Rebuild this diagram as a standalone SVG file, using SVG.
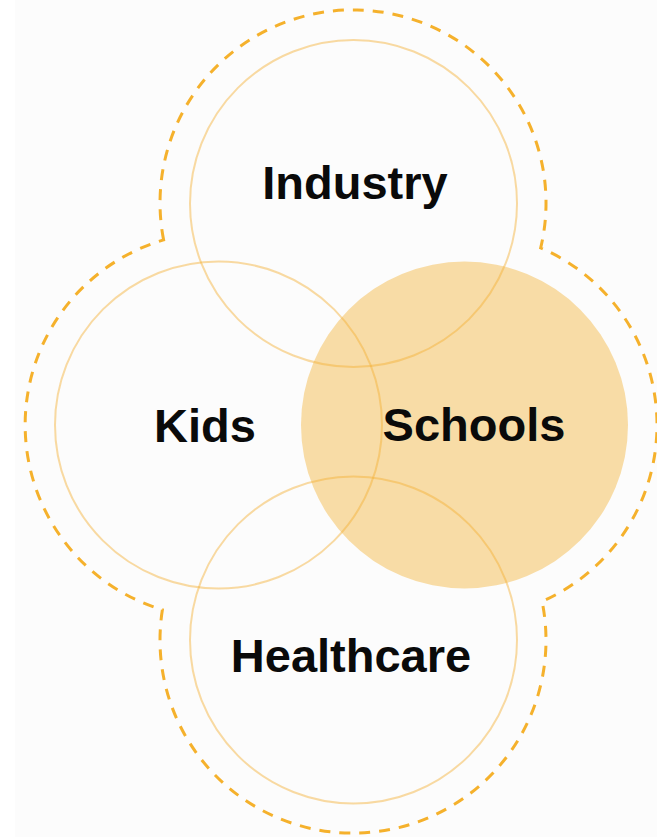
<svg xmlns="http://www.w3.org/2000/svg" width="657" height="837" viewBox="0 0 657 837">
  <style>
    .ring { fill: none; stroke: #f3b033; stroke-opacity: 0.45; stroke-width: 2; }
    .label { font-family: "Liberation Sans", Arial, sans-serif; font-weight: bold; font-size: 47px; fill: #0a0a0a; text-anchor: middle; }
    .boundary { fill: none; stroke: #f5b12c; stroke-width: 3; stroke-dasharray: 11 9; }
  </style>

  <!-- page -->
  <rect x="0" y="0" width="657" height="837" fill="#ffffff"/>
  <rect x="15" y="0" width="642" height="837" fill="#fcfcfc"/>

  <!-- dashed outline around the four circles -->
  <g id="connectors">
    <path class="boundary" d="M163.6,239.9 A193,193 0 1 1 540.7,247.9 A193,193 0 0 1 542.1,601.5 A193,193 0 1 1 162.4,609.8 A193,193 0 0 1 163.6,239.9 Z"/>
  </g>

  <!-- highlighted circle fill -->
  <g id="schools">
    <circle cx="464.5" cy="425" r="163.5" fill="#f8dca6"/>
    <text class="label" x="474" y="441">Schools</text>
  </g>

  <g id="industry">
    <circle class="ring" cx="353.5" cy="203.5" r="163.5"/>
    <text class="label" x="355" y="199">Industry</text>
  </g>

  <g id="kids">
    <circle class="ring" cx="218.5" cy="425" r="163.5"/>
    <text class="label" x="205" y="442">Kids</text>
  </g>

  <g id="healthcare">
    <circle class="ring" cx="353.5" cy="640" r="163.5"/>
    <text class="label" x="351" y="672">Healthcare</text>
  </g>
</svg>
